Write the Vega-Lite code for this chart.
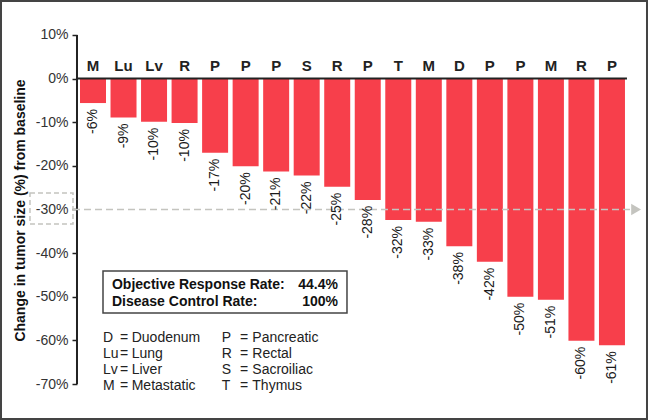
{
  "$schema": "https://vega.github.io/schema/vega-lite/v6.json",
  "width": 648,
  "height": 420,
  "padding": 0,
  "autosize": {"type": "none"},
  "background": "white",
  "config": {
    "font": "Liberation Sans",
    "view": {"stroke": null}
  },
  "datasets": {
    "one": [{"k": 1}]
  },
  "data": {
    "values": [
      {"patient": 1, "site": "M", "change": -5.6, "label": "-6%"},
      {"patient": 2, "site": "Lu", "change": -8.9, "label": "-9%"},
      {"patient": 3, "site": "Lv", "change": -9.9, "label": "-10%"},
      {"patient": 4, "site": "R", "change": -10.2, "label": "-10%"},
      {"patient": 5, "site": "P", "change": -17.0, "label": "-17%"},
      {"patient": 6, "site": "P", "change": -20.1, "label": "-20%"},
      {"patient": 7, "site": "P", "change": -21.3, "label": "-21%"},
      {"patient": 8, "site": "S", "change": -22.2, "label": "-22%"},
      {"patient": 9, "site": "R", "change": -24.8, "label": "-25%"},
      {"patient": 10, "site": "P", "change": -27.8, "label": "-28%"},
      {"patient": 11, "site": "T", "change": -32.4, "label": "-32%"},
      {"patient": 12, "site": "M", "change": -32.8, "label": "-33%"},
      {"patient": 13, "site": "D", "change": -38.4, "label": "-38%"},
      {"patient": 14, "site": "P", "change": -42.0, "label": "-42%"},
      {"patient": 15, "site": "P", "change": -50.0, "label": "-50%"},
      {"patient": 16, "site": "M", "change": -50.7, "label": "-51%"},
      {"patient": 17, "site": "R", "change": -60.1, "label": "-60%"},
      {"patient": 18, "site": "P", "change": -61.1, "label": "-61%"}
    ]
  },
  "layer": [
    {
      "mark": {"type": "bar", "width": 26, "color": "#f73f4b"},
      "encoding": {
        "x": {"field": "patient", "type": "quantitative", "scale": {"domain": [-2.046, 19.18], "nice": false, "zero": false, "padding": 0}, "axis": null},
        "y": {
          "field": "change", "type": "quantitative",
          "scale": {"domain": [-78.25, 18.02], "nice": false, "zero": false, "padding": 0},
          "axis": {
            "orient": "left", "offset": -77, "domain": false, "grid": false,
            "values": [-70, -60, -50, -40, -30, -20, -10, 0, 10],
            "labelExpr": "datum.value + '%'",
            "tickSize": 5, "tickColor": "#222", "tickWidth": 1.5,
            "labelFontSize": 14, "labelColor": "#333", "labelPadding": 4,
            "title": "Change in tumor size (%) from baseline",
            "titleFontSize": 14, "titleFontWeight": "bold", "titleColor": "#111", "titlePadding": 8
          }
        }
      }
    },
    {
      "data": {"name": "one"},
      "mark": {"type": "rect", "fill": null, "fillOpacity": 0, "stroke": "#444", "strokeWidth": 2},
      "encoding": {"x": {"datum": -2.013}, "x2": {"datum": 19.147}, "y": {"datum": 17.79}, "y2": {"datum": -78.02}}
    },
    {
      "data": {"name": "one"},
      "mark": {"type": "rule", "color": "#222", "strokeWidth": 2},
      "encoding": {"x": {"datum": 0.476}, "x2": {"datum": 18.491}, "y": {"datum": 0}}
    },
    {
      "data": {"name": "one"},
      "mark": {"type": "rule", "color": "#222", "strokeWidth": 2},
      "encoding": {"x": {"datum": 0.476}, "y": {"datum": 10}, "y2": {"datum": -70}}
    },
    {
      "data": {"name": "one"},
      "mark": {"type": "rule", "color": "#c4c4bf", "strokeWidth": 1.5, "strokeDash": [7, 4]},
      "encoding": {"x": {"datum": 0.345}, "x2": {"datum": 18.589}, "y": {"datum": -30}}
    },
    {
      "data": {"name": "one"},
      "mark": {"type": "point", "shape": "triangle-right", "filled": true, "color": "#c4c4bf", "size": 130, "opacity": 1},
      "encoding": {"x": {"datum": 18.79}, "y": {"datum": -30}}
    },
    {
      "data": {"name": "one"},
      "mark": {"type": "rect", "fill": null, "fillOpacity": 0, "stroke": "#c4c4bf", "strokeWidth": 1.5, "strokeDash": [5, 3]},
      "encoding": {"x": {"datum": -1.064}, "x2": {"datum": 0.345}, "y": {"datum": -26.2}, "y2": {"datum": -33.3}}
    },
    {
      "data": {"name": "one"},
      "mark": {"type": "rect", "fill": "white", "stroke": "#444", "strokeWidth": 1.5},
      "encoding": {"x": {"datum": 1.328}, "x2": {"datum": 9.32}, "y": {"datum": -44.1}, "y2": {"datum": -53.75}}
    },
    {
      "mark": {"type": "text", "align": "center", "baseline": "alphabetic", "dy": -8, "fontSize": 15, "fontWeight": "bold", "color": "#222"},
      "encoding": {"x": {"field": "patient", "type": "quantitative"}, "y": {"datum": 0}, "text": {"field": "site"}}
    },
    {
      "mark": {"type": "text", "angle": 270, "align": "right", "baseline": "middle", "dx": -6, "fontSize": 14, "color": "#1a1a1a"},
      "encoding": {"x": {"field": "patient", "type": "quantitative"}, "y": {"field": "change", "type": "quantitative"}, "text": {"field": "label"}}
    },
    {
      "data": {"name": "one"},
      "mark": {"type": "text", "align": "left", "baseline": "alphabetic", "fontSize": 14, "fontWeight": "bold", "color": "#111", "lineHeight": 17, "text": ["Objective Response Rate:", "Disease Control Rate:"]},
      "encoding": {"x": {"datum": 1.622}, "y": {"datum": -48.2}}
    },
    {
      "data": {"name": "one"},
      "mark": {"type": "text", "align": "right", "baseline": "alphabetic", "fontSize": 14, "fontWeight": "bold", "color": "#111", "lineHeight": 17, "text": ["44.4%", "100%"]},
      "encoding": {"x": {"datum": 9.025}, "y": {"datum": -48.2}}
    },
    {
      "data": {"name": "one"},
      "mark": {"type": "text", "align": "left", "baseline": "alphabetic", "fontSize": 14, "color": "#222", "lineHeight": 16, "text": ["D", "Lu", "Lv", "M"]},
      "encoding": {"x": {"datum": 1.328}, "y": {"datum": -60.31}}
    },
    {
      "data": {"name": "one"},
      "mark": {"type": "text", "align": "left", "baseline": "alphabetic", "fontSize": 14, "color": "#222", "lineHeight": 16, "text": ["=", "=", "=", "="]},
      "encoding": {"x": {"datum": 1.884}, "y": {"datum": -60.31}}
    },
    {
      "data": {"name": "one"},
      "mark": {"type": "text", "align": "left", "baseline": "alphabetic", "fontSize": 14, "color": "#222", "lineHeight": 16, "text": ["Duodenum", "Lung", "Liver", "Metastatic"]},
      "encoding": {"x": {"datum": 2.268}, "y": {"datum": -60.31}}
    },
    {
      "data": {"name": "one"},
      "mark": {"type": "text", "align": "left", "baseline": "alphabetic", "fontSize": 14, "color": "#222", "lineHeight": 16, "text": ["P", "R", "S", "T"]},
      "encoding": {"x": {"datum": 5.216}, "y": {"datum": -60.31}}
    },
    {
      "data": {"name": "one"},
      "mark": {"type": "text", "align": "left", "baseline": "alphabetic", "fontSize": 14, "color": "#222", "lineHeight": 16, "text": ["=", "=", "=", "="]},
      "encoding": {"x": {"datum": 5.816}, "y": {"datum": -60.31}}
    },
    {
      "data": {"name": "one"},
      "mark": {"type": "text", "align": "left", "baseline": "alphabetic", "fontSize": 14, "color": "#222", "lineHeight": 16, "text": ["Pancreatic", "Rectal", "Sacroiliac", "Thymus"]},
      "encoding": {"x": {"datum": 6.218}, "y": {"datum": -60.31}}
    }
  ]
}
